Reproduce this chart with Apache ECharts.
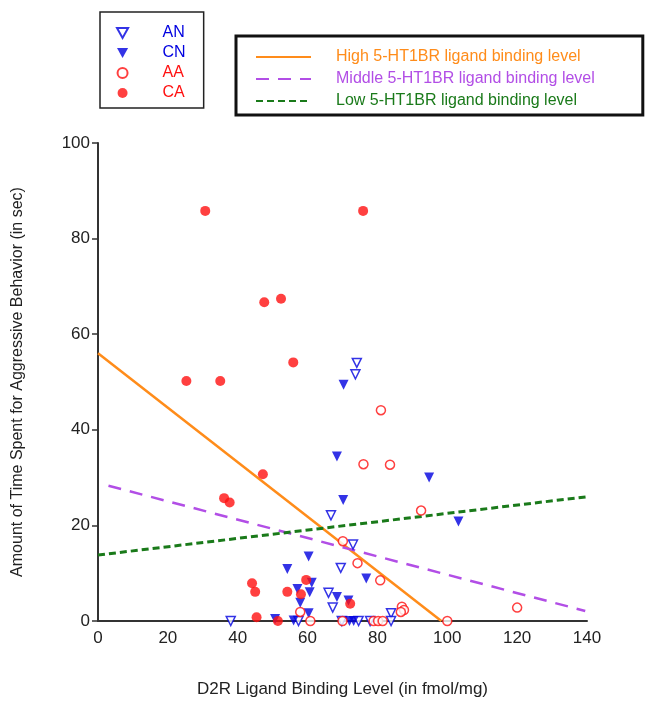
<!DOCTYPE html>
<html>
<head>
<meta charset="utf-8">
<script src="https://cdn.jsdelivr.net/npm/echarts@6/dist/echarts.min.js"></script>
<style>
  html, body { margin: 0; padding: 0; background: #fff; }
  #chart { width: 646px; height: 703px; }
</style>
</head>
<body>
<div id="chart"></div>
<script>
// 数据：[D2R, 攻击时间]
var anData = [[74.1,54],[73.7,51.6],[66.7,22.1],[73,16],[69.5,11.1],[66,5.9],[67.2,2.8],[83.9,1.6],
  [38,0],[57.4,0],[69.8,0],[74.6,0],[77.9,0],[83.9,0]];
var cnData = [[70.3,49.4],[68.4,34.4],[94.8,30],[70.2,25.3],[103.2,20.8],[60.3,13.5],[54.2,10.9],[76.8,8.9],
  [61.2,8],[57.1,6.7],[60.6,6],[68.4,5],[71.7,4.3],[57.9,3.8],[60.3,1.6],[50.7,0.4],[56,0.1],[72,0],[73.2,0]];
var aaData = [[81,44.1],[76,32.8],[83.6,32.7],[92.5,23.1],[70.1,16.7],[74.3,12.1],[80.8,8.5],[57.9,1.9],
  [87,3],[87.6,2.3],[86.7,1.9],[60.8,0],[70,0],[78.9,0],[80.2,0],[81.5,0],[100,0],[120,2.8]];
var caData = [[30.7,85.8],[75.9,85.8],[25.3,50.2],[35,50.2],[47.6,66.7],[52.4,67.4],[55.9,54.1],[36.1,25.7],
  [37.7,24.8],[47.2,30.7],[44.1,7.9],[45,6.1],[54.2,6.1],[59.6,8.6],[58.1,5.6],[45.4,0.8],[51.5,0],[72.2,3.6]];

// 回归线端点
var highLine = [[0,56],[98.3,0]];
var middleLine = [[3,28.3],[139.5,2.1]];
var lowLine = [[0,13.8],[140,26]];

var xTicks = [0, 140, 20];   // min, max, interval
var yTicks = [0, 100, 20];

var FONT = '"Liberation Sans", Arial, sans-serif';
var BLUE = '#0000e0', RED = '#ff1010';
var ORANGE = '#ff8c1a', PURPLE = '#b24ee6', GREEN = '#1a7a1a';
var DOWN_TRI = 'path://M0,0 L10,0 L5,9 Z';

var option = {
  backgroundColor: '#fff',
  animation: false,
  textStyle: { fontFamily: FONT },
  grid: { left: 98, right: 59, top: 143, bottom: 82 },
  legend: [
    {
      // 组别图例
      left: 100, top: 12,
      orient: 'vertical',
      data: [
        { name: 'AN', icon: DOWN_TRI, textStyle: { color: BLUE } },
        { name: 'CN', icon: DOWN_TRI, textStyle: { color: BLUE } },
        { name: 'AA', textStyle: { color: RED } },
        { name: 'CA', textStyle: { color: RED } }
      ],
      itemWidth: 16, itemHeight: 10, itemGap: 4,
      padding: [13, 18, 7, 16],
      borderColor: '#222', borderWidth: 1.5,
      textStyle: { fontSize: 16, fontFamily: FONT, padding: [0, 0, 0, 27] }
    },
    {
      // 回归线图例
      left: 236, top: 36,
      orient: 'vertical',
      data: [
        { name: 'High 5-HT1BR ligand binding level', textStyle: { color: ORANGE } },
        { name: 'Middle 5-HT1BR ligand binding level', textStyle: { color: PURPLE } },
        { name: 'Low 5-HT1BR ligand binding level', textStyle: { color: GREEN } }
      ],
      itemWidth: 55, itemHeight: 14, itemGap: 6,
      padding: [13, 48, 6, 19],
      borderColor: '#111', borderWidth: 3,
      itemStyle: { color: 'rgba(0,0,0,0)', borderWidth: 0 },
      textStyle: { fontSize: 16, fontFamily: FONT, padding: [0, 0, 0, 20] }
    }
  ],
  xAxis: {
    type: 'value',
    min: xTicks[0], max: xTicks[1], interval: xTicks[2],
    name: 'D2R Ligand Binding Level (in fmol/mg)',
    nameLocation: 'middle', nameGap: 60,
    nameTextStyle: { fontSize: 17, color: '#222', fontFamily: FONT },
    axisLine: { lineStyle: { color: '#333', width: 2 } },
    axisTick: { show: false },
    axisLabel: { fontSize: 17, color: '#222', margin: 9, fontFamily: FONT },
    splitLine: { show: false }
  },
  yAxis: {
    type: 'value',
    min: yTicks[0], max: yTicks[1], interval: yTicks[2],
    name: 'Amount of Time Spent for Aggressive Behavior (in sec)',
    nameLocation: 'middle', nameGap: 72,
    nameTextStyle: { fontSize: 16, color: '#222', fontFamily: FONT },
    axisLine: { show: true, lineStyle: { color: '#333', width: 2 } },
    axisTick: { show: true, length: 6, lineStyle: { color: '#333', width: 1.5 } },
    axisLabel: { fontSize: 17, color: '#222', margin: 8, fontFamily: FONT },
    splitLine: { show: false }
  },
  series: [
    {
      name: 'High 5-HT1BR ligand binding level', type: 'line', data: highLine,
      symbol: 'none', z: 1,
      lineStyle: { color: ORANGE, width: 2.5 }, itemStyle: { color: ORANGE }
    },
    {
      name: 'Middle 5-HT1BR ligand binding level', type: 'line', data: middleLine,
      symbol: 'none', z: 1,
      lineStyle: { color: PURPLE, width: 2.5, type: [13, 9] }, itemStyle: { color: PURPLE }
    },
    {
      name: 'Low 5-HT1BR ligand binding level', type: 'line', data: lowLine,
      symbol: 'none', z: 1,
      lineStyle: { color: GREEN, width: 3, type: [7, 4] }, itemStyle: { color: GREEN }
    },
    {
      name: 'AN', type: 'scatter', data: anData,
      symbol: 'triangle', symbolRotate: 180, symbolSize: [9, 9], z: 3,
      itemStyle: { color: '#fff', borderColor: BLUE, borderWidth: 1.5 }
    },
    {
      name: 'CN', type: 'scatter', data: cnData,
      symbol: 'triangle', symbolRotate: 180, symbolSize: [10, 10], z: 3,
      itemStyle: { color: BLUE }
    },
    {
      name: 'AA', type: 'scatter', data: aaData,
      symbol: 'circle', symbolSize: 9, z: 3,
      itemStyle: { color: '#fff', borderColor: RED, borderWidth: 1.5 }
    },
    {
      name: 'CA', type: 'scatter', data: caData,
      symbol: 'circle', symbolSize: 10, z: 3,
      itemStyle: { color: RED }
    }
  ]
};

var myChart = echarts.init(document.getElementById('chart'));
myChart.setOption(option);
</script>
</body>
</html>
